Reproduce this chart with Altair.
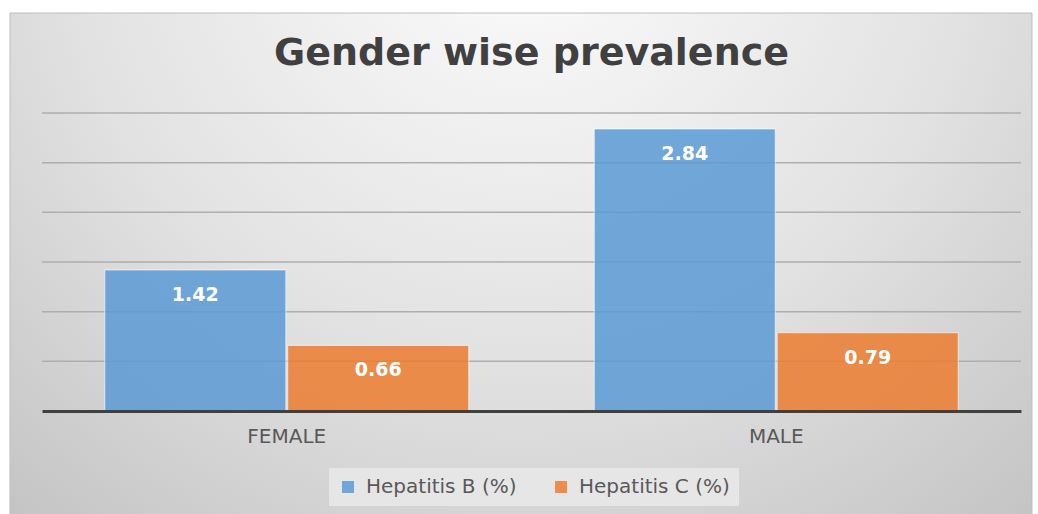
import altair as alt
import pandas as pd

# ---- data ----
genders = ["FEMALE", "MALE"]
series = ["Hepatitis B (%)", "Hepatitis C (%)"]
hep_b = [1.42, 2.84]
hep_c = [0.66, 0.79]
grid_values = [0.5, 1.0, 1.5, 2.0, 2.5, 3.0]
colors = ["#5b9bd5", "#ed7d31"]

rows = []
for g, b, c in zip(genders, hep_b, hep_c):
    rows.append({"gender": g, "series": series[0], "value": b, "label": f"{b:.2f}"})
    rows.append({"gender": g, "series": series[1], "value": c, "label": f"{c:.2f}"})
df = pd.DataFrame(rows)
grid_df = pd.DataFrame({"g": grid_values})

W, H = 979, 298
yscale = alt.Scale(domain=[0, 3], nice=False)

# background panel (decoration)
bg = alt.Chart(alt.Data(values=[{"a": 1}])).mark_rect(
    fill={
        "gradient": "radial",
        "x1": 0.5, "y1": 0.15, "r1": 0,
        "x2": 0.5, "y2": 0.15, "r2": 0.8,
        "stops": [
            {"offset": 0, "color": "#fdfdfd"},
            {"offset": 0.55, "color": "#e2e2e2"},
            {"offset": 1, "color": "#c2c2c2"},
        ],
    },
    stroke="#bdbdbd",
    strokeWidth=1,
).encode(
    x=alt.value(-32), x2=alt.value(990), y=alt.value(-100), y2=alt.value(405)
)

grid = alt.Chart(grid_df).mark_rule(color="#aeaeae", strokeWidth=1.5).encode(
    y=alt.Y("g:Q", scale=yscale, axis=None)
)

xenc = alt.X(
    "gender:N",
    sort=genders,
    scale=alt.Scale(paddingInner=0.2564, paddingOuter=0.1282),
    axis=alt.Axis(
        title=None,
        ticks=False,
        grid=False,
        domainColor="#404040",
        domainWidth=3,
        labelFont="DejaVu Sans",
        labelFontSize=20,
        labelColor="#595959",
        labelPadding=15,
        labelAngle=0,
        zindex=1,
    ),
)
xoff = alt.XOffset("series:N", sort=series, scale=alt.Scale(paddingInner=0.01))

bars = alt.Chart(df).mark_bar(
    opacity=0.85, stroke="#ffffff", strokeWidth=1.2, strokeOpacity=0.6
).encode(
    x=xenc,
    xOffset=xoff,
    y=alt.Y("value:Q", scale=yscale, axis=None),
    color=alt.Color(
        "series:N",
        sort=series,
        scale=alt.Scale(domain=series, range=colors),
        legend=alt.Legend(
            title=None,
            orient="none",
            direction="horizontal",
            legendX=287,
            legendY=355,
            padding=9,
            fillColor="#e6e6e6",
            symbolType="square",
            symbolSize=144,
            symbolStrokeWidth=0,
            symbolOpacity=0.85,
            labelFont="DejaVu Sans",
            labelFontSize=20,
            labelColor="#595959",
            labelOffset=8,
            columnPadding=34,
            labelLimit=300,
        ),
    ),
)

labels = alt.Chart(df).mark_text(
    color="white",
    font="DejaVu Sans",
    fontWeight="bold",
    fontSize=19,
    baseline="middle",
    dy=25,
).encode(
    x=alt.X("gender:N", sort=genders),
    xOffset=alt.XOffset("series:N", sort=series),
    y=alt.Y("value:Q", scale=yscale, axis=None),
    text="label:N",
)

chart = alt.layer(bg, grid, bars, labels).properties(
    width=W,
    height=H,
    autosize="none",
    padding={"left": 42, "top": 113, "right": 17, "bottom": 103},
    background="white",
    title=alt.TitleParams(
        "Gender wise prevalence",
        font="DejaVu Sans",
        fontWeight="bold",
        fontSize=38,
        color="#404040",
        anchor="middle",
        frame="group",
        baseline="alphabetic",
        offset=-90,
    ),
).configure_view(stroke=None)

chart.save("out.html", embed_options={"renderer": "svg", "actions": False})
